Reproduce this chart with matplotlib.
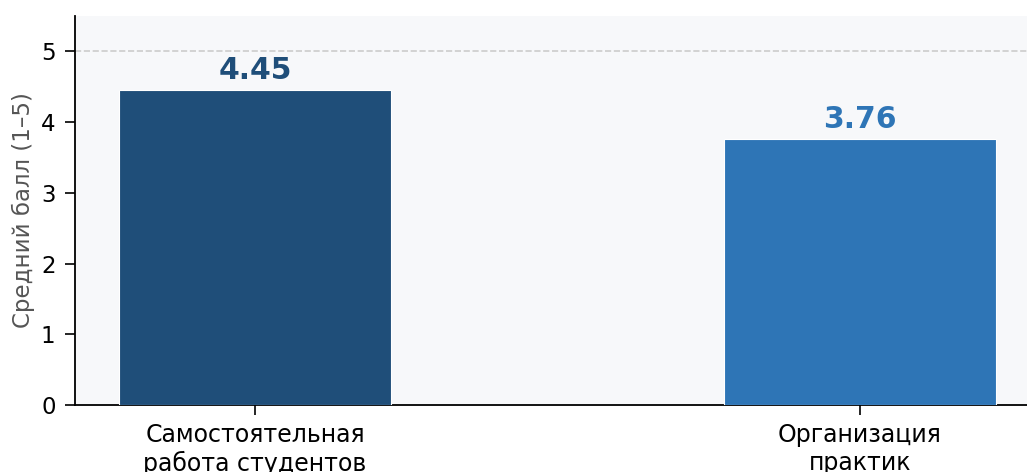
import matplotlib
matplotlib.use("Agg")
from matplotlib import pyplot as plt

categories = ["Самостоятельная\nработа студентов", "Организация\nпрактик"]
scores = [4.45, 3.76]
colors = ["#1f4e79", "#2e75b6"]

W, H, DPI = 1027, 472, 100
fig = plt.figure(figsize=(W / DPI, H / DPI), dpi=DPI)
# the reference is a cropped figure: axes run past the right and bottom edges
left, right, top, bottom = 75, 1040, 16, 405
ax = fig.add_axes([left / W, 1 - bottom / H, (right - left) / W, (bottom - top) / H])
ax.set_facecolor("#f7f8fa")

x = range(len(categories))
bars = ax.bar(x, scores, width=0.45, color=colors, edgecolor="white", linewidth=0.8, zorder=3)
ax.axhline(5, color="#cccccc", linestyle="--", linewidth=1.2, zorder=1)

for bar, val, c in zip(bars, scores, colors):
    ax.text(bar.get_x() + bar.get_width() / 2, val + 0.07, f"{val:.2f}",
            ha="center", va="bottom", fontsize=21.5, fontweight="bold", color=c)

ax.set_xticks(list(x))
ax.set_xticklabels(categories, fontsize=17)
ax.set_ylim(0, 5.5)
ax.set_yticks([0, 1, 2, 3, 4, 5])
ax.tick_params(axis="y", labelsize=16.5, length=7, width=1.2, pad=7)
ax.tick_params(axis="x", length=7, width=1.2, pad=6)
ax.set_ylabel("Средний балл (1–5)", fontsize=16.5, color="#555555", labelpad=4)

for s in ("top", "right"):
    ax.spines[s].set_visible(False)
for s in ("left", "bottom"):
    ax.spines[s].set_linewidth(1.3)

fig.savefig("out.png", dpi=DPI)
